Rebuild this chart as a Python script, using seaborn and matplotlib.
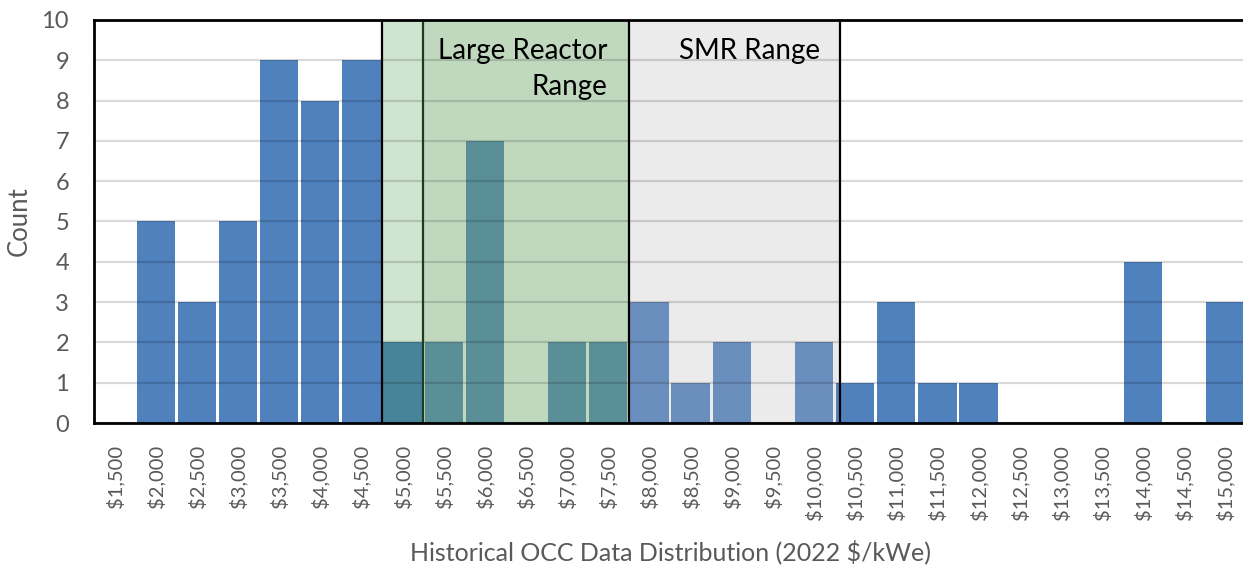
import matplotlib
matplotlib.use("Agg")
import matplotlib.pyplot as plt
import seaborn as sns
import pandas as pd
from matplotlib.patches import Rectangle

categories = ["$1,500", "$2,000", "$2,500", "$3,000", "$3,500", "$4,000", "$4,500",
              "$5,000", "$5,500", "$6,000", "$6,500", "$7,000", "$7,500", "$8,000",
              "$8,500", "$9,000", "$9,500", "$10,000", "$10,500", "$11,000", "$11,500",
              "$12,000", "$12,500", "$13,000", "$13,500", "$14,000", "$14,500", "$15,000"]
counts = [0, 5, 3, 5, 9, 8, 9, 2, 2, 7, 0, 2, 2, 3, 1, 2, 0, 2, 1, 3, 1, 1, 0, 0, 0, 4, 0, 3]
y_ticks = list(range(0, 11))
region_labels = ["Large Reactor\nRange", "SMR Range"]

sns.set_theme(style="white")
plt.rcParams['font.family'] = ['Lato', 'DejaVu Sans']

def bar_color(i):
    if i == 7:
        return "#47849A"
    if 8 <= i <= 12:
        return "#5B8F98"
    if 13 <= i <= 17:
        return "#6A8EBD"
    return "#4F81BD"

df = pd.DataFrame({"bin": categories, "count": counts})
palette = {c: bar_color(i) for i, c in enumerate(categories)}

fig = plt.figure(figsize=(12.43, 5.69), dpi=100)
ax = fig.add_axes([94/1243, 1-423/569, (1246-94)/1243, (423-20)/569])

# shaded regions (behind bars)
ax.add_patch(Rectangle((6.5, 0), 1.0, 10, facecolor="#CFE5CF", edgecolor="none", zorder=0.3))
ax.add_patch(Rectangle((7.5, 0), 5.0, 10, facecolor="#C0D9BE", edgecolor="none", zorder=0.3))
ax.add_patch(Rectangle((12.5, 0), 5.13, 10, facecolor="#EBEBEB", edgecolor="none", zorder=0.3))

sns.barplot(data=df, x="bin", y="count", hue="bin", palette=palette, legend=False,
            width=0.93, ax=ax, zorder=2, linewidth=0, saturation=1)

# region borders
for xv, col in [(6.5, "black"), (7.5, "#1F3A1F"), (12.5, "black"), (17.63, "black")]:
    ax.plot([xv, xv], [0, 10], color=col, lw=1.6, zorder=3)

ax.set_xlim(-0.5, len(categories) - 0.5)
ax.set_ylim(0, 10)
ax.set_yticks(y_ticks)
ax.yaxis.grid(True, color="black", alpha=0.15, lw=1.6, zorder=1)
ax.set_axisbelow(False)
for gl in ax.get_ygridlines():
    gl.set_zorder(1)

ax.tick_params(axis="x", rotation=90, labelsize=14.5, colors="#595959", length=0, pad=16)
ax.tick_params(axis="y", labelsize=17, colors="#595959", length=0, pad=18)
for spine in ax.spines.values():
    spine.set_color("black")
    spine.set_linewidth(2)
    spine.set_zorder(4)

ax.set_xlabel("Historical OCC Data Distribution (2022 $/kWe)", fontsize=18, color="#595959", labelpad=14)
ax.set_ylabel("Count", fontsize=18.5, color="#595959")
ax.yaxis.set_label_coords(-0.054, 0.5)

ax.text(11.99, 9.55, region_labels[0], ha="right", va="top", fontsize=20, color="black",
        linespacing=1.45, zorder=5)
ax.text(17.14, 9.55, region_labels[1], ha="right", va="top", fontsize=20, color="black", zorder=5)

fig.savefig("out.png", dpi=100)
